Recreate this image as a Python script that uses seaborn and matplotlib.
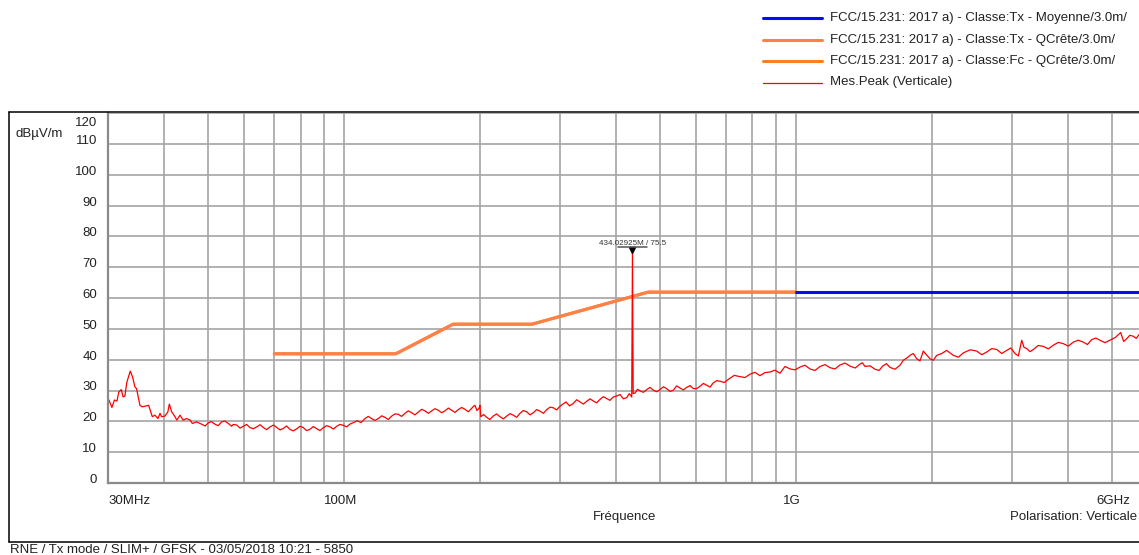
import numpy as np
import pandas as pd
import matplotlib
matplotlib.use("Agg")
import matplotlib.pyplot as plt
import matplotlib.transforms as mtransforms
from matplotlib.lines import Line2D
import seaborn as sns

# relevé Mes.Peak (Verticale)
freq_mhz = [30.15, 30.6, 31.0, 31.4, 31.7, 32.1, 32.4, 32.7, 33.0, 33.6, 34.0, 34.4, 34.7, 35.0,
            35.3, 35.7, 36.2, 36.9, 37.2, 37.6, 38.1, 38.7, 39.1, 39.4, 40.1, 40.7, 41.0, 41.5,
            42.2, 42.6, 43.3, 44.0, 44.8, 45.6, 46.1, 47.1, 48.3, 50.0, 51.7, 53.5, 55.4, 56.3,
            57.8, 59.8, 61.8, 64.0, 66.2, 68.5, 70.9, 73.3, 75.8, 78.5, 81.1, 83.9, 86.9, 89.8,
            93.0, 96.2, 99.5, 102.9, 106.8, 111.1, 114.9, 118.9, 123.0, 127.3, 131.6, 136.2,
            140.9, 145.8, 150.8, 156.1, 161.4, 167.0, 172.8, 178.7, 184.9, 191.3, 194.5, 198.6,
            199.6, 200.4, 206.5, 213.5, 221.0, 228.7, 236.5, 244.7, 253.2, 261.9, 271.0, 280.4,
            290.0, 300.0, 309.3, 321.0, 332.2, 343.8, 355.5, 367.8, 380.6, 393.6, 407.4, 421.5,
            432.4, 434.03, 435.6, 440.0, 451.1, 466.7, 482.7, 499.4, 516.7, 534.5, 552.9, 572.1,
            591.9, 612.4, 633.7, 655.3, 678.0, 707.4, 750.5, 790.0, 831.0, 874.8, 920.0, 968.5,
            1019, 1072, 1129, 1187, 1250, 1315, 1384, 1419, 1493, 1555, 1612, 1696, 1725, 1785,
            1847, 1910, 1976, 2045, 2151, 2226, 2342, 2507, 2639, 2776, 2920, 3047, 3153, 3235,
            3345, 3520, 3704, 3896, 4102, 4315, 4503, 4698, 4943, 5221, 5383, 5567, 5731, 6000]
level_dbuv = [26.9, 24.5, 26.9, 26.6, 29.5, 30.3, 27.9, 28.2, 32.5, 36.3, 34.4, 31.2, 30.6, 27.9,
              25.2, 24.7, 24.9, 25.2, 23.6, 21.5, 22.0, 20.9, 22.6, 21.5, 21.7, 23.1, 25.6, 23.1,
              21.5, 20.4, 22.0, 20.4, 20.9, 20.4, 19.3, 19.8, 19.1, 19.5, 19.1, 19.8, 19.3, 18.4,
              18.8, 18.4, 18.0, 18.2, 18.0, 18.2, 18.0, 17.7, 17.4, 17.6, 18.0, 17.4, 17.6, 17.9,
              18.2, 18.4, 18.7, 19.1, 20.2, 20.9, 20.9, 20.9, 21.3, 21.7, 22.3, 22.6,
              22.8, 23.0, 23.4, 23.4, 23.6, 23.4, 23.6, 23.8, 23.9, 24.2, 25.2, 24.2,
              25.2, 21.5, 21.3, 21.7, 21.5, 21.7, 22.0, 22.6, 23.1, 22.8, 23.3, 23.8,
              24.4, 24.9, 26.3, 25.8, 26.3, 26.5, 26.6, 27.1, 27.4, 27.9, 28.7, 27.7,
              27.9, 75.5, 29.0, 29.2, 29.9, 30.3, 30.1, 30.3, 30.6, 30.1, 30.8, 31.0,
              30.6, 31.4, 31.7, 32.5, 33.0, 33.6, 34.5, 35.3, 34.8, 36.0, 35.6, 37.0,
              37.6, 37.0, 37.8, 37.4, 38.3, 37.9, 38.6, 37.8, 36.9, 38.0, 37.5, 38.2, 39.8, 41.4,
              40.3, 42.8, 40.3, 41.4, 43.0, 41.4, 42.2, 42.8, 42.5, 43.3, 43.0, 42.0, 46.3, 43.6,
              43.3, 44.3, 44.7, 45.2, 45.7, 45.7, 46.5, 46.3, 46.3, 48.8, 46.8, 47.6, 48.1, 48.0]

# relevés intermédiaires (creux / pointes du bruit)
freq_mhz_b = [49.2, 50.8, 52.6, 54.4, 56.8, 58.8, 60.8, 62.9, 65.1, 67.3, 69.7, 72.1, 74.5, 77.1,
              79.8, 82.5, 85.4, 88.3, 91.4, 94.6, 97.8, 101.2, 104.8, 108.9, 113.0, 116.9, 121.0,
              125.1, 129.4, 133.9, 138.5, 143.3, 148.3, 153.4, 158.7, 164.2, 169.9, 175.7, 181.8,
              188.1, 192.9, 196.5, 203.4, 209.9, 217.2, 224.8, 232.6, 240.6, 248.9, 257.5, 266.4,
              275.7, 285.2, 295.0, 304.6, 315.1, 326.6, 338.0, 349.6, 361.6, 374.1, 387.0, 400.4,
              414.4, 427.0, 445.3, 458.8, 474.6, 491.0, 508.0, 525.5, 543.6, 562.4, 582.0, 602.1,
              623.0, 644.4, 666.6, 692.7, 728.9, 770, 810, 852, 897, 944, 993, 1045, 1100, 1158,
              1218, 1282, 1350, 1400, 1456, 1524, 1583, 1654, 1755, 1815, 1878, 1943, 2010, 2098,
              2188, 2284, 2424, 2573, 2707, 2848, 2983, 3100, 3190, 3290, 3430, 3610, 3800, 3998,
              4208, 4408, 4600, 4820, 5080, 5300, 5470, 5650, 5850]
level_dbuv_b = [18.5, 19.9, 18.6, 20.1, 19.0, 17.8, 19.0, 17.6, 18.9, 17.3, 18.8, 17.2, 18.5, 16.9,
                18.4, 17.0, 18.3, 17.0, 18.6, 17.5, 19.0, 18.2, 19.6, 19.6, 21.6, 20.3, 21.8,
                20.6, 22.4, 21.6, 23.4, 22.1, 23.9, 22.6, 24.1, 22.8, 24.3, 22.9, 24.5,
                23.1, 24.8, 23.5, 22.2, 20.6, 22.4, 20.8, 22.5, 21.3, 23.5, 22.1, 23.8,
                22.6, 24.6, 23.7, 25.6, 25.0, 27.0, 25.6, 27.3, 26.0, 28.0, 26.8, 28.2,
                27.3, 29.0, 30.4, 29.4, 31.0, 29.6, 31.2, 29.7, 31.5, 30.2, 31.6, 30.6,
                32.3, 31.1, 33.2, 32.6, 34.9, 34.2, 35.9, 35.8, 36.6, 37.8, 36.7, 38.2, 36.5, 38.4,
                37.0, 38.9, 37.3, 39.0, 38.0, 36.5, 38.7, 36.9, 40.5, 42.0, 39.6, 41.5, 39.8, 42.0,
                42.2, 40.8, 43.2, 41.6, 43.6, 42.0, 43.8, 41.2, 44.0, 42.6, 44.6, 43.5, 45.6, 44.4,
                46.3, 44.9, 47.0, 45.5, 47.2, 45.9, 47.9, 46.9, 48.5]

# limites FCC/15.231
lim_qc_freq = [70, 130, 174, 260, 470, 1000]
lim_qc_level = [41.9, 41.9, 51.5, 51.5, 61.9, 61.9]
lim_moy_freq = [1000, 6000]
lim_moy_level = [61.9, 61.9]

marker_freq = 434.02925
marker_level = 75.5

y_ticks = list(range(0, 121, 10))
x_major = [30, 100, 1000]
x_major_labels = ["30MHz", "100M", "1G"]
x_minor = [40, 50, 60, 70, 80, 90, 200, 300, 400, 500, 600, 700, 800, 900, 2000, 3000, 4000, 5000]

legend_labels = ["FCC/15.231: 2017 a) - Classe:Tx - Moyenne/3.0m/",
                 "FCC/15.231: 2017 a) - Classe:Tx - QCrête/3.0m/",
                 "FCC/15.231: 2017 a) - Classe:Fc - QCrête/3.0m/",
                 "Mes.Peak (Verticale)"]
c_moy = "#0a0af0"
c_tx = "#ff8048"
c_fc = "#ff8020"
c_mes = "#ff0000"

sns.set_style("white")
plt.rcParams["font.family"] = ["Liberation Sans", "DejaVu Sans"]
plt.rcParams["font.size"] = 9.5

W, H = 1139, 555
fig = plt.figure(figsize=(W / 100, H / 100), dpi=100)
ax = fig.add_axes([108 / W, (H - 483) / H, 1031 / W, 370 / H])

df_mes = pd.concat([pd.DataFrame({"f": freq_mhz, "dB": level_dbuv}),
                    pd.DataFrame({"f": freq_mhz_b, "dB": level_dbuv_b})])
df_mes = df_mes.sort_values("f").reset_index(drop=True)
df_qc = pd.DataFrame({"f": lim_qc_freq, "dB": lim_qc_level})
df_moy = pd.DataFrame({"f": lim_moy_freq, "dB": lim_moy_level})

sns.lineplot(data=df_qc, x="f", y="dB", ax=ax, color=c_fc, lw=2.2, estimator=None, sort=False)
sns.lineplot(data=df_qc, x="f", y="dB", ax=ax, color=c_tx, lw=2.2, estimator=None, sort=False)
sns.lineplot(data=df_moy, x="f", y="dB", ax=ax, color=c_moy, lw=2.2, estimator=None, sort=False)
sns.lineplot(data=df_mes, x="f", y="dB", ax=ax, color=c_mes, lw=0.9, estimator=None, sort=False)

ax.set_xscale("log")
ax.set_xlim(30, 5731)
ax.set_ylim(0, 120)
ax.set_xlabel("")
ax.set_ylabel("")

ax.set_xticks(x_major)
ax.set_xticklabels(x_major_labels)
ax.set_xticks(x_minor, minor=True)
ax.set_xticklabels([], minor=True)
ax.set_yticks(y_ticks)
ax.set_yticklabels([str(v) for v in y_ticks])
ax.grid(True, which="both", color="#a4a4a4", lw=1.2)
ax.set_axisbelow(True)

ax.tick_params(axis="x", which="major", direction="out", length=4.5, width=1.2,
               color="#808080", pad=4, labelsize=9.5, labelcolor="#222222")
ax.tick_params(axis="x", which="minor", length=0)
ax.tick_params(axis="y", direction="out", length=2.2, width=1.2, color="#808080",
               pad=5.5, labelsize=9.5, labelcolor="#222222")

for sp in ["top", "right"]:
    ax.spines[sp].set_visible(False)
for sp in ["left", "bottom"]:
    ax.spines[sp].set_color("#8a8a8a")
    ax.spines[sp].set_linewidth(1.6)

xl = ax.get_xticklabels()
xl[0].set_ha("left")
for lab in xl[1:]:
    lab.set_transform(lab.get_transform() + mtransforms.ScaledTranslation(-0.04, 0, fig.dpi_scale_trans))
for lab in ax.get_yticklabels():
    lab.set_va("baseline")
yl = ax.get_yticklabels()
yl[-1].set_transform(yl[-1].get_transform() + mtransforms.ScaledTranslation(0, -0.128, fig.dpi_scale_trans))

# marqueur
ax.plot([marker_freq], [marker_level], marker="v", color="black", ms=4, zorder=5)
ax.annotate(f"{marker_freq:.5f}M / {marker_level}", xy=(marker_freq, marker_level),
            xytext=(0, 7), textcoords="offset pixels", ha="center", va="center",
            fontsize=5.8, color="#333333")
ax.plot([marker_freq * 0.93, marker_freq * 1.075], [marker_level + 1.2] * 2,
        color="#555555", lw=1.1, zorder=5)

# cadre et textes
def fx(px):
    return px / W

def fy(py):
    return 1 - py / H

for xs, ys in [([9, 1139], [112, 112]), ([9, 9], [112, 542]), ([9, 1139], [542, 542])]:
    fig.add_artist(Line2D([fx(v) for v in xs], [fy(v) for v in ys], color="black", lw=1.1))

fig.text(fx(15), fy(134), "dBµV/m", ha="left", va="center", color="#222222")
fig.text(fx(625), fy(517), "Fréquence", ha="center", va="center", color="#222222")
fig.text(fx(1137), fy(517), "Polarisation: Verticale", ha="right", va="center", color="#222222")
fig.text(fx(1130), fy(501), "6GHz", ha="right", va="center", color="#222222")
fig.text(fx(10), fy(550), "RNE / Tx mode / SLIM+ / GFSK - 03/05/2018 10:21 - 5850",
         ha="left", va="center", color="#222222")

# légende
leg_rows = [18, 39.5, 61, 82.5]
leg_colors = [c_moy, c_tx, c_fc, c_mes]
leg_lw = [2.2, 2.2, 2.2, 0.9]
for yy, lab, col, lw in zip(leg_rows, legend_labels, leg_colors, leg_lw):
    fig.add_artist(Line2D([fx(763), fx(822)], [fy(yy), fy(yy)], color=col, lw=lw))
    fig.text(fx(830), fy(yy), lab, ha="left", va="center", color="#222222")

fig.savefig("out.png", dpi=100)
